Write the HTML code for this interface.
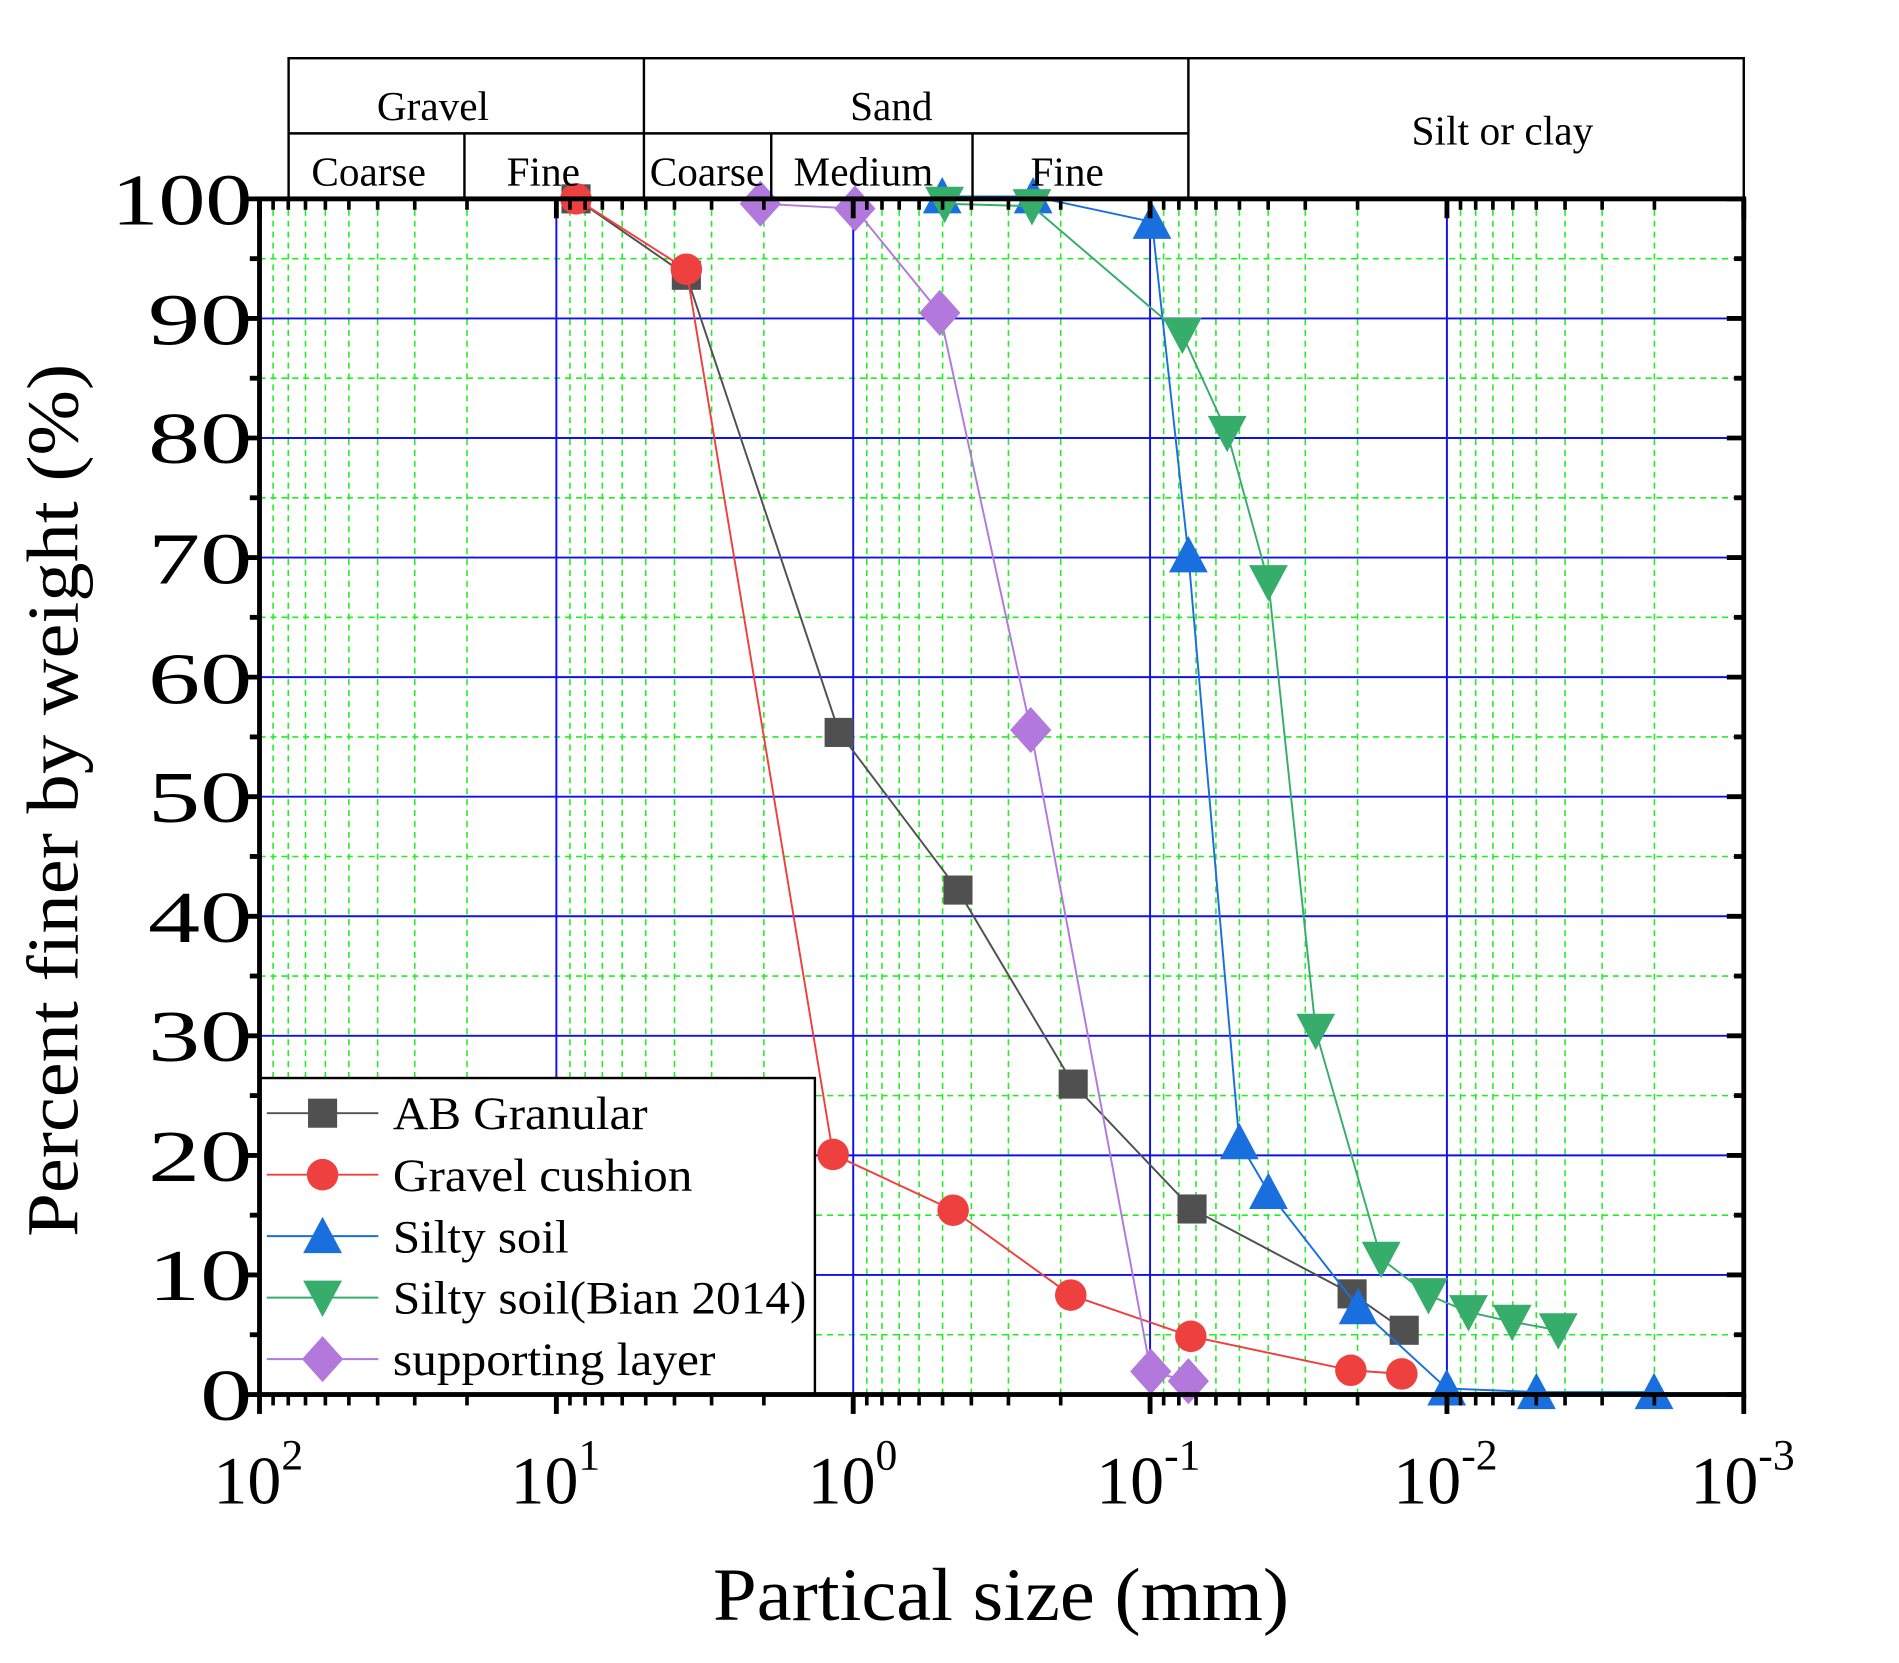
<!DOCTYPE html>
<html><head><meta charset="utf-8"><style>
html,body{margin:0;padding:0;background:#fff;}
svg{display:block;}
text{font-family:"Liberation Serif",serif;fill:#000;}
</style></head><body>
<svg id="s" width="1899" height="1663" viewBox="0 0 1566 1371.4" xmlns="http://www.w3.org/2000/svg">
<rect width="1566" height="1372" fill="#fff"/>
<g id="grid"></g>
<g id="series"></g>
<rect x="214" y="889" width="458" height="261" fill="#fff" stroke="#000" stroke-width="2"/>
<g id="leg"></g>
<g font-size="38">
<text x="324" y="931" textLength="210" lengthAdjust="spacingAndGlyphs">AB Granular</text>
<text x="324" y="982" textLength="247" lengthAdjust="spacingAndGlyphs">Gravel cushion</text>
<text x="324" y="1033" textLength="145" lengthAdjust="spacingAndGlyphs">Silty soil</text>
<text x="324" y="1083" textLength="341" lengthAdjust="spacingAndGlyphs">Silty soil(Bian 2014)</text>
<text x="324" y="1134" textLength="266" lengthAdjust="spacingAndGlyphs">supporting layer</text>
</g>
<g id="axes"></g>
<g stroke="#000" stroke-width="2" fill="none">
<rect x="238" y="48" width="1200" height="116"/>
<line x1="238" y1="110" x2="980" y2="110"/>
<line x1="531" y1="48" x2="531" y2="164"/>
<line x1="980" y1="48" x2="980" y2="164"/>
<line x1="383" y1="110" x2="383" y2="164"/>
<line x1="636" y1="110" x2="636" y2="164"/>
<line x1="802" y1="110" x2="802" y2="164"/>
</g>
<g font-size="34" text-anchor="middle">
<text x="357" y="99">Gravel</text>
<text x="735" y="99">Sand</text>
<text x="1239" y="119" textLength="150" lengthAdjust="spacingAndGlyphs">Silt or clay</text>
<text x="304" y="153">Coarse</text>
<text x="448" y="153">Fine</text>
<text x="583" y="153">Coarse</text>
<text x="712" y="153">Medium</text>
<text x="880" y="153">Fine</text>
</g>
<g font-size="60">
<text x="92" y="185" textLength="116" lengthAdjust="spacingAndGlyphs">100</text>
<text x="122" y="284" textLength="86" lengthAdjust="spacingAndGlyphs">90</text>
<text x="122" y="382" textLength="86" lengthAdjust="spacingAndGlyphs">80</text>
<text x="122" y="481" textLength="86" lengthAdjust="spacingAndGlyphs">70</text>
<text x="122" y="580" textLength="86" lengthAdjust="spacingAndGlyphs">60</text>
<text x="122" y="678" textLength="86" lengthAdjust="spacingAndGlyphs">50</text>
<text x="122" y="777" textLength="86" lengthAdjust="spacingAndGlyphs">40</text>
<text x="122" y="875" textLength="86" lengthAdjust="spacingAndGlyphs">30</text>
<text x="122" y="974" textLength="86" lengthAdjust="spacingAndGlyphs">20</text>
<text x="122" y="1072" textLength="86" lengthAdjust="spacingAndGlyphs">10</text>
<text x="165" y="1171" textLength="43" lengthAdjust="spacingAndGlyphs">0</text>
</g>
<g font-size="56">
<text x="176" y="1240">10<tspan dy="-28" font-size="36">2</tspan></text>
<text x="421" y="1240">10<tspan dy="-28" font-size="36">1</tspan></text>
<text x="666" y="1240">10<tspan dy="-28" font-size="36">0</tspan></text>
<text x="904" y="1240">10<tspan dy="-28" font-size="36">-1</tspan></text>
<text x="1149" y="1240">10<tspan dy="-28" font-size="36">-2</tspan></text>
<text x="1394" y="1240">10<tspan dy="-28" font-size="36">-3</tspan></text>
</g>
<text x="588" y="1336" font-size="62" textLength="475" lengthAdjust="spacingAndGlyphs">Partical size (mm)</text>
<text transform="translate(64,1020) rotate(-90)" font-size="60" textLength="720" lengthAdjust="spacingAndGlyphs">Percent finer by weight (%)</text>
</svg>
<script>
var NS="http://www.w3.org/2000/svg";
function el(p,t,a){var e=document.createElementNS(NS,t);for(var k in a)e.setAttribute(k,a[k]);document.getElementById(p).appendChild(e);return e;}
var L=214,R=1438,T=164,B=1150,D=244.8;
function X(d){return L+(2-Math.log10(d))*D;}
function Y(p){return B-p*9.86;}
for(var e=2;e>-3;e--){for(var m=2;m<=9;m++){var x=X(m*Math.pow(10,e-1));el("grid","line",{x1:x,y1:T,x2:x,y2:B,stroke:"#22ee22","stroke-width":1.3,"stroke-dasharray":"5,4"});}}
for(var p=5;p<100;p+=10){el("grid","line",{x1:L,y1:Y(p),x2:R,y2:Y(p),stroke:"#22ee22","stroke-width":1.3,"stroke-dasharray":"5,4"});}
for(var p=10;p<100;p+=10){el("grid","line",{x1:L,y1:Y(p),x2:R,y2:Y(p),stroke:"#1010ee","stroke-width":1.6});}
[1,0,-1,-2].forEach(function(e){var x=X(Math.pow(10,e));el("grid","line",{x1:x,y1:T,x2:x,y2:B,stroke:"#1010ee","stroke-width":1.6});});
el("axes","rect",{x:L,y:T,width:R-L,height:B-T,fill:"none",stroke:"#000","stroke-width":4});
for(var p=0;p<=100;p+=5){var maj=p%10==0,y=Y(p);el("axes","line",{x1:L,y1:y,x2:L-(maj?14:8),y2:y,stroke:"#000","stroke-width":4});el("axes","line",{x1:R,y1:y,x2:R-(maj?14:8),y2:y,stroke:"#000","stroke-width":4});}
for(var e=2;e>=-3;e--){var x=X(Math.pow(10,e));el("axes","line",{x1:x,y1:B,x2:x,y2:B+16,stroke:"#000","stroke-width":4});el("axes","line",{x1:x,y1:T,x2:x,y2:T+16,stroke:"#000","stroke-width":4});
 if(e>-3)for(var m=2;m<=9;m++){var x2=X(m*Math.pow(10,e-1));el("axes","line",{x1:x2,y1:B,x2:x2,y2:B+9,stroke:"#000","stroke-width":3});el("axes","line",{x1:x2,y1:T,x2:x2,y2:T+9,stroke:"#000","stroke-width":3});}}
function mk(g,t,x,y,c){
 if(t=="s")el(g,"rect",{x:x-12,y:y-12,width:24,height:24,fill:c});
 else if(t=="c")el(g,"circle",{cx:x,cy:y,r:13,fill:c});
 else if(t=="u")el(g,"polygon",{points:(x)+","+(y-16)+" "+(x-16)+","+(y+14)+" "+(x+16)+","+(y+14),fill:c});
 else if(t=="d")el(g,"polygon",{points:(x)+","+(y+16)+" "+(x-16)+","+(y-14)+" "+(x+16)+","+(y-14),fill:c});
 else el(g,"polygon",{points:x+","+(y-19)+" "+(x+17)+","+y+" "+x+","+(y+19)+" "+(x-17)+","+y,fill:c});}
var S=[
["#505050","s",[[475,164],[566,227],[692,604],[790,734],[885,894],[983,997],[1115,1067],[1158,1097]]],
["#ef4040","c",[[475,164],[566,222],[687,952],[786,998],[883,1068],[982,1102],[1114,1130],[1156,1133]]],
["#1a6fdf","u",[[777,162],[852,162],[950,183],[980,458],[1022,942],[1046,983],[1120,1078],[1193,1145],[1267,1148],[1364,1148]]],
["#37ad6b","d",[[779,168],[851,170],[975,276],[1012,357],[1046,480],[1085,850],[1139,1038],[1178,1068],[1211,1082],[1247,1090],[1285,1097]]],
["#b278dc","m",[[627,168],[705,172],[775,258],[850,602],[949,1131],[980,1139]]]];
S.forEach(function(s,i){
 el("series","polyline",{points:s[2].map(function(p){return p.join(",");}).join(" "),fill:"none",stroke:s[0],"stroke-width":1.6});
 s[2].forEach(function(p){mk("series",s[1],p[0],p[1],s[0]);});
 var ly=918+i*50.7;
 el("leg","line",{x1:220,y1:ly,x2:312,y2:ly,stroke:s[0],"stroke-width":1.6});
 mk("leg",s[1],266,ly,s[0]);
});
</script>
</body></html>
